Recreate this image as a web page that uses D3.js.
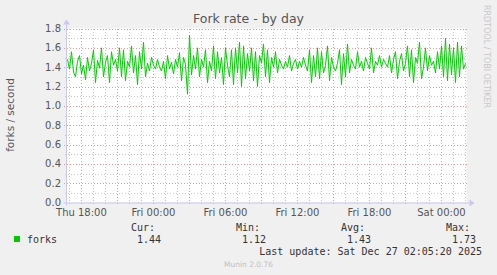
<!DOCTYPE html>
<html>
<head>
<meta charset="utf-8">
<script src="https://cdn.jsdelivr.net/npm/d3@7"></script>
<style>
  body { margin: 0; background: #f0f0f0; }
  svg { display: block; }
</style>
</head>
<body>
<script>
// forks per second, one sample per 10 minutes
var forks = [
  1.48,1.38,1.56,1.35,1.30,1.46,1.52,1.33,1.42,1.27,1.50,1.36,1.44,1.58,1.24,1.47,1.39,1.60,1.30,1.45,
  1.52,1.24,1.56,1.42,1.48,1.36,1.60,1.30,1.58,1.26,1.46,1.40,1.62,1.34,1.52,1.22,1.56,1.38,1.66,1.30,
  1.44,1.36,1.50,1.42,1.38,1.48,1.40,1.36,1.46,1.28,1.52,1.38,1.45,1.33,1.48,1.40,1.55,1.26,1.50,1.43,
  1.12,1.73,1.32,1.52,1.38,1.60,1.30,1.48,1.40,1.58,1.24,1.46,1.36,1.62,1.28,1.56,1.34,1.50,1.22,1.60,
  1.42,1.30,1.58,1.22,1.60,1.34,1.66,1.20,1.62,1.28,1.54,1.36,1.60,1.26,1.56,1.20,1.52,1.44,1.64,1.30,
  1.58,1.24,1.50,1.40,1.56,1.34,1.48,1.42,1.38,1.46,1.40,1.52,1.36,1.44,1.48,1.38,1.46,1.40,1.50,1.42,
  1.36,1.58,1.24,1.52,1.30,1.60,1.28,1.56,1.34,1.42,1.62,1.26,1.50,1.40,1.36,1.44,1.58,1.22,1.54,1.30,
  1.64,1.34,1.48,1.42,1.38,1.56,1.40,1.46,1.36,1.50,1.44,1.38,1.60,1.34,1.46,1.42,1.52,1.40,1.48,1.44,
  1.40,1.52,1.34,1.48,1.56,1.28,1.46,1.54,1.36,1.44,1.62,1.30,1.58,1.24,1.50,1.44,1.66,1.28,1.40,1.60,
  1.36,1.52,1.42,1.46,1.34,1.56,1.38,1.62,1.30,1.70,1.26,1.64,1.32,1.60,1.24,1.66,1.30,1.62,1.38,1.44
]
var yTicks = [0, 0.2, 0.4, 0.6, 0.8, 1.0, 1.2, 1.4, 1.6, 1.8]
var statLabels = ['Cur:', 'Min:', 'Avg:', 'Max:']
var statValues = ['1.44', '1.12', '1.43', '1.73']
var lastUpdate = new Date(2025, 11, 27, 2, 5, 20)
var step = 600 // seconds per sample

var width = 497, height = 275
var margin = { top: 28, left: 66.5, right: 30.5, bottom: 72 }

var end = lastUpdate
var start = new Date(end.getTime() - 400 * 300 * 1000)

var svg = d3.select('body').append('svg')
  .attr('width', width)
  .attr('height', height)
  .style('font-family', 'DejaVu Sans, sans-serif')

var x = d3.scaleTime()
  .domain([start, end])
  .range([margin.left, width - margin.right])

var y = d3.scaleLinear()
  .domain([0, 1.8])
  .range([202.5, 28.5])

// plot background
svg.append('rect')
  .attr('x', margin.left).attr('y', y(1.8))
  .attr('width', x.range()[1] - margin.left)
  .attr('height', y(0) - y(1.8))
  .attr('fill', '#fff')

var grid = svg.append('g')
  .attr('shape-rendering', 'crispEdges')

var minorColor = '#c8c8c8', majorColor = '#f09a9a', dash = '1,2'

// minor grid
var hours = d3.timeHour.range(start, end)
var minorY = d3.range(1, 18).map(function (d) { return d / 10 })

grid.selectAll('.vminor')
  .data(hours.filter(function (d) { return d.getHours() % 3 != 0 }))
  .enter().append('line')
  .attr('x1', function (d) { return Math.round(x(d)) + 0.5 })
  .attr('x2', function (d) { return Math.round(x(d)) + 0.5 })
  .attr('y1', y(1.8)).attr('y2', y(0) + 2)
  .attr('stroke', minorColor).attr('stroke-dasharray', dash)

grid.selectAll('.hminor')
  .data(minorY.filter(function (d) { return Math.round(d * 10) % 2 == 1 }))
  .enter().append('line')
  .attr('x1', margin.left - 2).attr('x2', x.range()[1])
  .attr('y1', function (d) { return Math.round(y(d)) + 0.5 })
  .attr('y2', function (d) { return Math.round(y(d)) + 0.5 })
  .attr('stroke', minorColor).attr('stroke-dasharray', dash)

// major grid
grid.selectAll('.vmajor')
  .data(hours.filter(function (d) { return d.getHours() % 3 == 0 }))
  .enter().append('line')
  .attr('x1', function (d) { return Math.round(x(d)) + 0.5 })
  .attr('x2', function (d) { return Math.round(x(d)) + 0.5 })
  .attr('y1', y(1.8)).attr('y2', y(0) + 3)
  .attr('stroke', majorColor).attr('stroke-dasharray', dash)

grid.selectAll('.hmajor')
  .data(yTicks.slice(1))
  .enter().append('line')
  .attr('x1', margin.left - 3).attr('x2', x.range()[1])
  .attr('y1', function (d) { return Math.round(y(d)) + 0.5 })
  .attr('y2', function (d) { return Math.round(y(d)) + 0.5 })
  .attr('stroke', majorColor).attr('stroke-dasharray', dash)

// data line
var line = d3.line()
  .x(function (d, i) { return x(new Date(start.getTime() + i * step * 1000)) + 1 })
  .y(function (d) { return y(d) })

svg.append('path')
  .datum(forks)
  .attr('d', line)
  .attr('fill', 'none')
  .attr('stroke', '#00cc00')
  .attr('stroke-width', 1)

// axes
var axisColor = '#c8c8f0'
svg.append('line')
  .attr('x1', margin.left - 3).attr('x2', x.range()[1] + 4)
  .attr('y1', y(0) + 0.5).attr('y2', y(0) + 0.5)
  .attr('stroke', axisColor)
svg.append('line')
  .attr('x1', margin.left).attr('x2', margin.left)
  .attr('y1', y(0) + 3).attr('y2', y(1.8) - 5)
  .attr('stroke', axisColor)
svg.append('path')
  .attr('d', 'M' + (x.range()[1] + 3) + ',' + (y(0) - 3) + 'l5,3.5l-5,3.5z')
  .attr('fill', axisColor)
svg.append('path')
  .attr('d', 'M' + (margin.left - 3.5) + ',' + (y(1.8) - 4) + 'l3.5,-5l3.5,5z')
  .attr('fill', axisColor)

// y labels
svg.append('g').selectAll('text')
  .data(yTicks)
  .enter().append('text')
  .attr('x', 61)
  .attr('y', function (d) { return y(d) + 3.5 })
  .attr('text-anchor', 'end')
  .attr('font-size', 10)
  .attr('fill', '#555')
  .text(function (d) { return d.toFixed(1) })

// x labels
var fmt = d3.timeFormat('%a %H:%M')
svg.append('g').selectAll('text')
  .data(hours.filter(function (d) { return d.getHours() % 6 == 0 }))
  .enter().append('text')
  .attr('x', function (d) { return x(d) })
  .attr('y', 216)
  .attr('text-anchor', 'middle')
  .attr('font-size', 10)
  .attr('fill', '#555')
  .text(function (d) { return fmt(d) })

// title and labels
svg.append('text')
  .attr('x', 248.5).attr('y', 23)
  .attr('text-anchor', 'middle')
  .attr('font-size', 12.5)
  .attr('fill', '#555')
  .text('Fork rate - by day')

svg.append('text')
  .attr('transform', 'translate(14,115) rotate(-90)')
  .attr('text-anchor', 'middle')
  .attr('font-size', 10.5)
  .attr('fill', '#555')
  .text('forks / second')

svg.append('text')
  .attr('transform', 'translate(484,5) rotate(90)')
  .attr('font-size', 8)
  .attr('fill', '#c8c8c8')
  .text('RRDTOOL / TOBI OETIKER')

// legend
var mono = 'DejaVu Sans Mono, monospace'
svg.append('rect')
  .attr('x', 14).attr('y', 236)
  .attr('width', 6).attr('height', 6)
  .attr('fill', '#00cc00')
svg.append('text')
  .attr('x', 27).attr('y', 243)
  .attr('font-family', mono).attr('font-size', 10).attr('fill', '#333')
  .text('forks')

var statX = [155, 260, 365, 470]
svg.append('g').selectAll('text')
  .data(statLabels)
  .enter().append('text')
  .attr('x', function (d, i) { return statX[i] })
  .attr('y', 231)
  .attr('text-anchor', 'end')
  .attr('font-family', mono).attr('font-size', 10).attr('fill', '#333')
  .text(function (d) { return d })

svg.append('g').selectAll('text')
  .data(statValues)
  .enter().append('text')
  .attr('x', function (d, i) { return statX[i] + 6 })
  .attr('y', 243)
  .attr('text-anchor', 'end')
  .attr('font-family', mono).attr('font-size', 10).attr('fill', '#333')
  .text(function (d) { return d })

svg.append('text')
  .attr('x', 482).attr('y', 255)
  .attr('text-anchor', 'end')
  .attr('font-family', mono).attr('font-size', 10).attr('fill', '#333')
  .text('Last update: Sat Dec 27 02:05:20 2025')

svg.append('text')
  .attr('x', 248.5).attr('y', 267)
  .attr('text-anchor', 'middle')
  .attr('font-size', 7.5)
  .attr('fill', '#c0c0c0')
  .text('Munin 2.0.76')
</script>
</body>
</html>
